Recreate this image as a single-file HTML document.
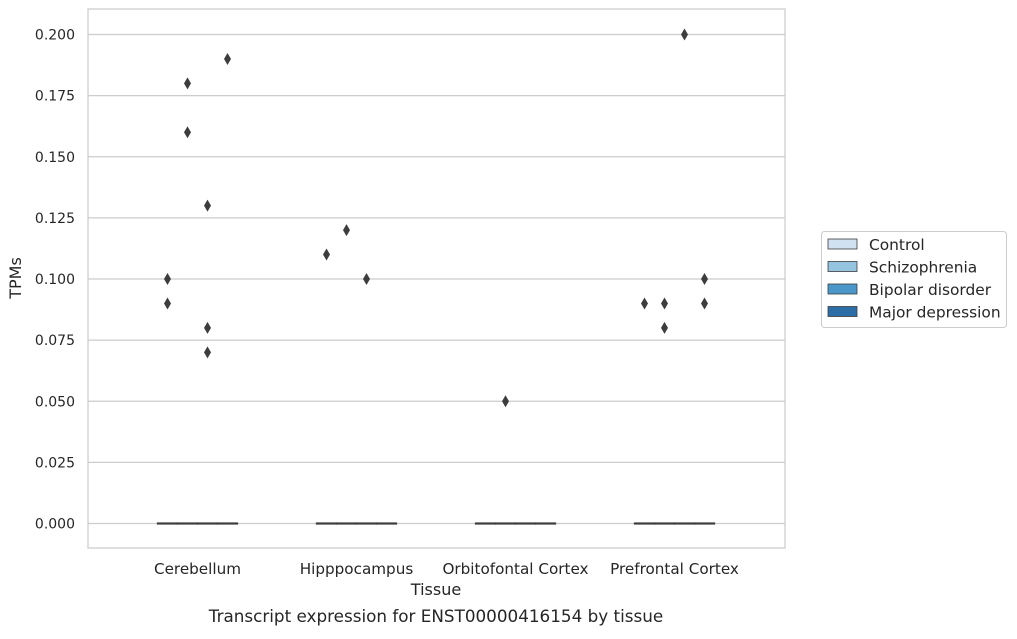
<!DOCTYPE html>
<html><head><meta charset="utf-8"><style>
body{margin:0;background:#fff;font-family:"Liberation Sans","DejaVu Sans",sans-serif;}
svg text{font-family:"DejaVu Sans","Liberation Sans",sans-serif;fill:#262626;}
</style></head><body>
<svg id="chart" width="1017" height="634" xmlns="http://www.w3.org/2000/svg">
<g id="grid"></g>
<rect x="88" y="9" width="697" height="539" fill="none" stroke="#cccccc" stroke-width="1.25"/>
<g id="marks"></g>
<text x="436" y="595" font-size="16" text-anchor="middle">Tissue</text>
<text x="21" y="278" font-size="16" text-anchor="middle" transform="rotate(-90 21 278)">TPMs</text>
<text x="436" y="622" font-size="16.8" text-anchor="middle">Transcript expression for ENST00000416154 by tissue</text>
<g id="legend">
<rect x="821.5" y="231.5" width="185" height="96" rx="3" fill="#fff" stroke="#cccccc"/>
</g>
</svg>
<script>
const categories=["Cerebellum","Hipppocampus","Orbitofontal Cortex","Prefrontal Cortex"];
const groups=["Control","Schizophrenia","Bipolar disorder","Major depression"];
const colors=["#d0e1f2","#94c4df","#4a98c9","#2e6ea6"];
const yTicks=[0,0.025,0.05,0.075,0.1,0.125,0.15,0.175,0.2];
// outliers: [categoryIndex, groupIndex, value]
const outliers=[
[0,0,0.10],[0,0,0.09],[0,1,0.18],[0,1,0.16],[0,2,0.13],[0,2,0.08],[0,2,0.07],[0,3,0.19],
[1,0,0.11],[1,1,0.12],[1,2,0.10],
[2,1,0.05],
[3,0,0.09],[3,1,0.09],[3,1,0.08],[3,2,0.20],[3,3,0.10],[3,3,0.09]];
const medians=[[0,0,0,0],[0,0,0,0],[0,0,0,0],[0,0,0,0]];
const NS="http://www.w3.org/2000/svg";
function y(v){return 523.5-v*(523.5-34.5)/0.2;}
function xc(i){return 197.5+i*159;}
function xg(i,g){return xc(i)-30+g*20;}
function mk(t,a,p){const e=document.createElementNS(NS,t);for(const k in a)e.setAttribute(k,a[k]);p.appendChild(e);return e;}
const grid=document.getElementById('grid'),marks=document.getElementById('marks'),leg=document.getElementById('legend');
yTicks.forEach(v=>{
 const l=mk('line',{x1:88,x2:785,y1:y(v),y2:y(v),stroke:'#cccccc','stroke-width':1.25},grid);
 
 
 const t=mk('text',{x:75,y:y(v)+5,'font-size':14,'text-anchor':'end'},grid);
 t.textContent=v.toFixed(3);
 
 
});
categories.forEach((c,i)=>{
 const t=mk('text',{x:xc(i),y:574,'font-size':15.2,'text-anchor':'middle'},grid);
 t.textContent=c;
 
 
 groups.forEach((g,j)=>{
  const yy=y(medians[i][j]);
  const b=mk('rect',{x:xg(i,j)-10,y:yy-0.5,width:20,height:1,fill:colors[j],stroke:'#3d3d3d','stroke-width':1.2},marks);
  
  
 });
});
outliers.forEach(o=>{
 const cx=xg(o[0],o[1]),cy=y(o[2]);
 const p=mk('polygon',{points:`${cx},${cy-6} ${cx+3.5},${cy} ${cx},${cy+6} ${cx-3.5},${cy}`,fill:'#3d3d3d'},marks);
 
 
});
groups.forEach((g,j)=>{
 const yy=239+j*22.5;
 const r=mk('rect',{x:828,y:yy,width:29,height:10,fill:colors[j],stroke:'#3d3d3d','stroke-width':0.8},leg);
 
 
 const t=mk('text',{x:869,y:yy+11,'font-size':15.4},leg);
 t.textContent=g;
 
 
});
</script>
</body></html>
